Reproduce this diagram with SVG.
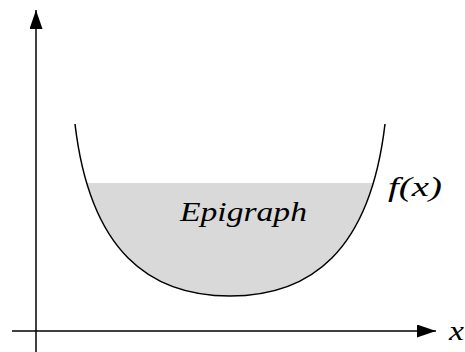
<svg xmlns="http://www.w3.org/2000/svg" width="465" height="352" viewBox="0 0 465 352">
<style>
.axis{stroke:#000;stroke-width:1.5;fill:none}
.curve{stroke:#000;stroke-width:1.5;fill:none}
.lbl{font-family:"Liberation Serif","DejaVu Serif",serif;font-style:italic;font-size:27px;fill:#000}
</style>
<defs>
<marker id="arr" viewBox="0 0 19 13" refX="19" refY="6.5" markerWidth="19" markerHeight="13" markerUnits="userSpaceOnUse" orient="auto">
<path d="M0,0 L19,6.5 L0,13 Z" fill="#000"/>
</marker>
<clipPath id="below"><rect x="0" y="183" width="465" height="169"/></clipPath>
</defs>
<g id="epigraph">
<path d="M75,124 C90,252 150,296 230,296 C310,296 370,252 385,124 Z" fill="#d9d9d9" stroke="none" clip-path="url(#below)"/>
<text class="lbl" x="180" y="221" textLength="127" lengthAdjust="spacingAndGlyphs">Epigraph</text>
</g>
<g id="connectors">
<line class="axis" x1="36" y1="352" x2="36" y2="10" marker-end="url(#arr)"/>
<line class="axis" x1="12" y1="331" x2="436" y2="331" marker-end="url(#arr)"/>
</g>
<g id="f">
<path class="curve" d="M75,124 C90,252 150,296 230,296 C310,296 370,252 385,124"/>
<text class="lbl" x="388" y="196" textLength="54" lengthAdjust="spacingAndGlyphs">f(x)</text>
</g>
<g id="xlabel">
<text class="lbl" x="449" y="340" textLength="15" lengthAdjust="spacingAndGlyphs">x</text>
</g>
</svg>
